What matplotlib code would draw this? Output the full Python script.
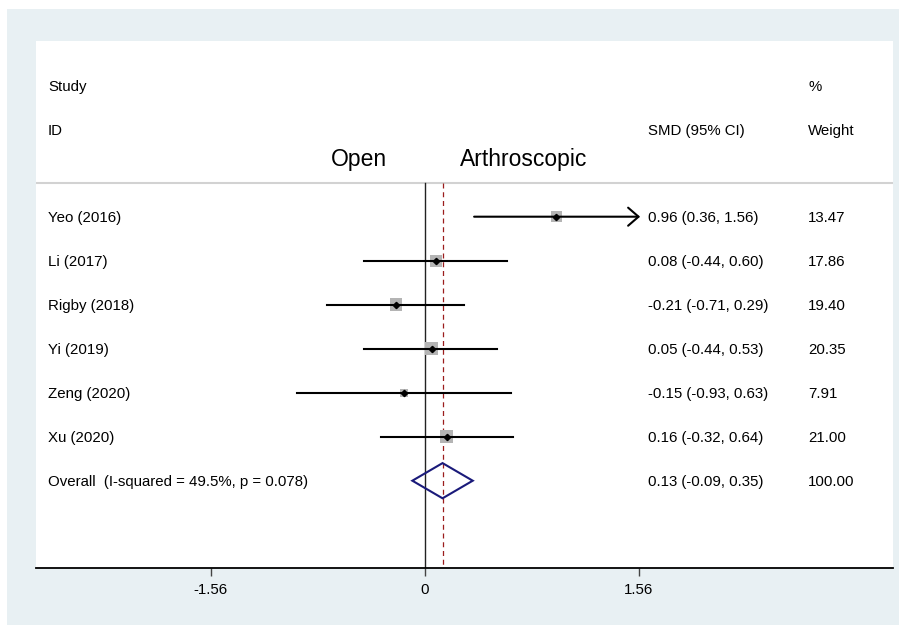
import numpy as np
import matplotlib
matplotlib.use("Agg")
import matplotlib.pyplot as plt
from matplotlib.patches import Rectangle, Polygon

plt.rcParams['font.family'] = ['Liberation Sans', 'DejaVu Sans']

# Données de la méta-analyse
studies = ["Yeo (2016)", "Li (2017)", "Rigby (2018)", "Yi (2019)", "Zeng (2020)", "Xu (2020)"]
smd = [0.96, 0.08, -0.21, 0.05, -0.15, 0.16]
ci_low = [0.36, -0.44, -0.71, -0.44, -0.93, -0.32]
ci_high = [1.56, 0.60, 0.29, 0.53, 0.63, 0.64]
weights = [13.47, 17.86, 19.40, 20.35, 7.91, 21.00]

overall_label = "Overall  (I-squared = 49.5%, p = 0.078)"
overall_smd = 0.13
overall_low = -0.09
overall_high = 0.35
overall_weight = 100.00

tick_values = [-1.56, 0, 1.56]
x_max = 1.56  # limite de l'axe, au-delà on dessine une flèche

W, H = 899, 625
fig = plt.figure(figsize=(W / 100, H / 100), dpi=100, facecolor="white")

# Fond gris-bleu façon Stata
fig.patches.append(Rectangle((7 / W, 0), (W - 7) / W, (H - 9) / H,
                             transform=fig.transFigure, facecolor="#e8f0f3",
                             edgecolor="none", zorder=0))

ax = fig.add_axes([36 / W, 57 / H, (893 - 36) / W, (568 - 41) / H])
ax.set_facecolor("white")
ax.set_zorder(1)

x_left, x_right = -2.833, 3.413
ax.set_xlim(x_left, x_right)
ax.set_ylim(8.984, -2.993)

for s in ["top", "left", "right"]:
    ax.spines[s].set_visible(False)
ax.spines["bottom"].set_linewidth(1.3)
ax.set_yticks([])
ax.set_xticks(tick_values)
ax.set_xticklabels(["-1.56", "0", "1.56"], fontsize=10.8)
ax.tick_params(axis="x", direction="out", length=6, width=1, color="#444444", pad=5)

fs = 10.8
col_study = -2.745
col_smd = 1.628
col_weight = 2.794
dy = 0.03  # petit décalage vertical du texte

# En-têtes
ax.text(col_study, -1.97 + dy, "Study", fontsize=fs, va="center")
ax.text(col_study, -0.97 + dy, "ID", fontsize=fs, va="center")
ax.text(col_smd, -0.97 + dy, "SMD (95% CI)", fontsize=fs, va="center")
ax.text(col_weight, -1.97 + dy, "%", fontsize=fs, va="center")
ax.text(col_weight, -0.97 + dy, "Weight", fontsize=fs, va="center")
ax.text(-0.275, -0.31, "Open", fontsize=16.5, va="center", ha="right")
ax.text(0.257, -0.31, "Arthroscopic", fontsize=16.5, va="center", ha="left")

# Ligne de séparation
ax.axhline(0.234, color="#d2d2d2", lw=1.5, zorder=1)

# Lignes verticales : zéro et effet global
ax.plot([0, 0], [0.234, 8.984], color="#222222", lw=1.0, zorder=2)
ax.plot([overall_smd, overall_smd], [0.234, 8.984], color="#9b1c1c", lw=0.9,
        ls=(0, (4, 3)), zorder=2)

rows = np.arange(1, len(studies) + 1)
for r, name, est, lo, hi, w in zip(rows, studies, smd, ci_low, ci_high, weights):
    side = 12.2 * np.sqrt(w / 17.86) * 0.72
    ax.scatter([est], [r], marker="s", s=side ** 2, color="#b4b4b4",
               edgecolors="none", zorder=3)
    if hi >= x_max:
        ax.annotate("", xy=(x_max + 0.01, r), xytext=(lo, r),
                    arrowprops=dict(arrowstyle="->,head_length=0.75,head_width=0.65",
                                    lw=1.5, color="black", shrinkA=0, shrinkB=0),
                    zorder=4)
    else:
        ax.plot([lo, hi], [r, r], color="black", lw=1.5, zorder=4)
    ax.plot([est], [r], marker="D", ms=3.2, color="black", zorder=5)
    ax.text(col_study, r + dy, name, fontsize=fs, va="center")
    ax.text(col_smd, r + dy, f"{est:.2f} ({lo:.2f}, {hi:.2f})", fontsize=fs, va="center")
    ax.text(col_weight, r + dy, f"{w:.2f}", fontsize=fs, va="center")

# Diamant global
r_ov = len(studies) + 1
dia = Polygon([(overall_low, r_ov), (overall_smd, r_ov - 0.4),
               (overall_high, r_ov), (overall_smd, r_ov + 0.4)],
              closed=True, fill=False, edgecolor="#1a1a7a", lw=1.5, zorder=4)
ax.add_patch(dia)
ax.text(col_study, r_ov + dy, overall_label, fontsize=fs, va="center")
ax.text(col_smd, r_ov + dy, f"{overall_smd:.2f} ({overall_low:.2f}, {overall_high:.2f})",
        fontsize=fs, va="center")
ax.text(col_weight, r_ov + dy, f"{overall_weight:.2f}", fontsize=fs, va="center")

fig.savefig("out.png", dpi=100, facecolor=fig.get_facecolor())
